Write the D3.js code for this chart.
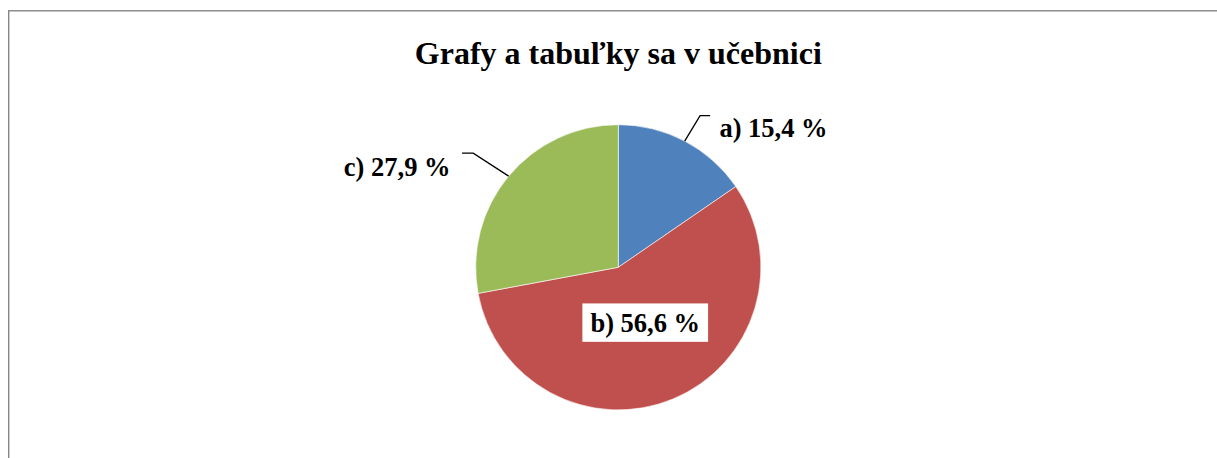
<!DOCTYPE html>
<html>
<head>
<meta charset="utf-8">
<script src="https://cdn.jsdelivr.net/npm/d3@7"></script>
<style>
  html, body { margin: 0; padding: 0; background: #fff; }
  svg { display: block; }
</style>
</head>
<body>
<svg id="chart" width="1217" height="458"></svg>
<script>
// Survey answers: "Grafy a tabuľky sa v učebnici"
const categories = ["a)", "b)", "c)"];
const values = [15.4, 56.6, 27.9];
const labels = ["a) 15,4 %", "b) 56,6 %", "c) 27,9 %"];
const colors = ["#4F81BD", "#C0504D", "#9BBB59"];
const title = "Grafy a tabuľky sa v učebnici";

const width = 1217, height = 458;
const cx = 618.3, cy = 267.3, radius = 142.6;
const FONT = "Liberation Serif";

const svg = d3.select("#chart");

// chart area frame (extends past the right and bottom edges)
svg.append("rect")
  .attr("x", 8.7).attr("y", 10.8)
  .attr("width", 1300).attr("height", 500)
  .attr("fill", "#fff")
  .attr("stroke", "#868686").attr("stroke-width", 1.4);

svg.append("text")
  .attr("x", cx).attr("y", 63.5)
  .attr("text-anchor", "middle")
  .attr("font-family", FONT).attr("font-weight", "bold")
  .attr("font-size", 32)
  .text(title);

const pie = d3.pie().sort(null).value(d => d)(values);
const arc = d3.arc().innerRadius(0).outerRadius(radius);
const edge = d3.arc().innerRadius(radius).outerRadius(radius);

const g = svg.append("g").attr("transform", `translate(${cx},${cy})`);

g.selectAll("path.slice")
  .data(pie)
  .join("path")
  .attr("class", "slice")
  .attr("d", arc)
  .attr("fill", (d, i) => colors[i])
  .attr("stroke", "#fff")
  .attr("stroke-width", 0.6);

// outside labels with elbow leader lines for a) and c)
const outside = [
  { i: 0, elbow: [15.4, -25.4], run: 10, gap: 9.3, base: 21.6, anchor: "start" },
  { i: 2, elbow: [-35.4, -23], run: -11.2, gap: -11.5, base: 22.8, anchor: "end" }
];

outside.forEach(o => {
  const [sx, sy] = edge.centroid(pie[o.i]);
  const ex = sx + o.elbow[0], ey = sy + o.elbow[1];
  const tx = ex + o.run;
  g.append("path")
    .attr("d", d3.line()([[sx, sy], [ex, ey], [tx, ey]]))
    .attr("fill", "none")
    .attr("stroke", "#000")
    .attr("stroke-width", 1.3);
  g.append("text")
    .attr("x", tx + o.gap)
    .attr("y", ey + o.base)
    .attr("text-anchor", o.anchor)
    .attr("font-family", FONT).attr("font-weight", "bold")
    .attr("font-size", 26.5)
    .text(labels[o.i]);
});

// inside label for b) on a white box
const inner = d3.arc().innerRadius(0).outerRadius(radius * 0.84);
const [bx, by] = inner.centroid(pie[1]);
const bLabel = g.append("g").attr("transform", `translate(${bx + 4},${by})`);
const bText = bLabel.append("text")
  .attr("text-anchor", "middle")
  .attr("y", 9.5)
  .attr("font-family", FONT).attr("font-weight", "bold")
  .attr("font-size", 26.5)
  .text(labels[1]);
const bb = bText.node().getBBox();
bLabel.insert("rect", "text")
  .attr("x", bb.x - 8).attr("y", -19.2)
  .attr("width", bb.width + 16).attr("height", 38.4)
  .attr("fill", "#fff");
</script>
</body>
</html>
